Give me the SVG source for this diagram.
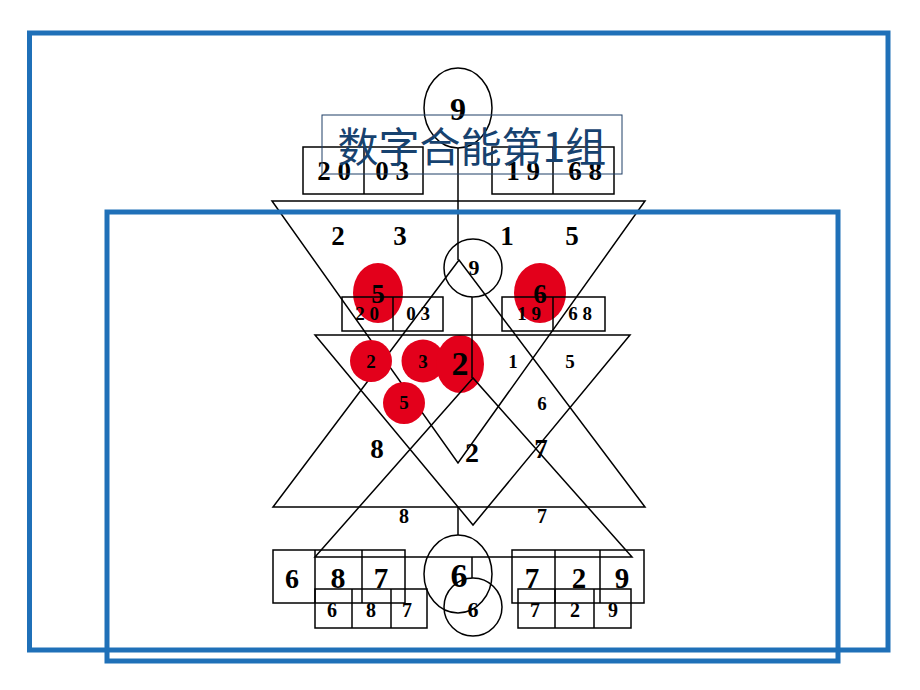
<svg xmlns="http://www.w3.org/2000/svg" width="920" height="690" viewBox="0 0 920 690">
<style>
.ln{fill:none;stroke:#000;stroke-width:1.5}
.bx{fill:none;stroke:#000;stroke-width:1.5}
.red{fill:#e3001b;stroke:none}
.t{font-family:"Liberation Serif","Times New Roman",serif;font-weight:bold;fill:#000;text-anchor:middle}
.frame{fill:none;stroke:#1f70b8;stroke-width:5}
.title{font-family:"Noto Sans CJK SC","Noto Sans",sans-serif;fill:#17426f;text-anchor:middle;font-size:41px}
</style>
<rect width="920" height="690" fill="#fff"/>

<g id="connectors">
  <polygon class="ln" points="272,201 645,201 458,463"/>
  <polygon class="ln" points="459,260 273,507 645,507"/>
  <line class="ln" x1="458" y1="148" x2="458" y2="260"/>
  <line class="ln" x1="458" y1="507" x2="458" y2="535"/>
</g>

<g id="large-top-circle">
  <ellipse class="ln" cx="458" cy="108" rx="34" ry="40"/>
  <text class="t" x="458" y="120" font-size="32">9</text>
</g>
<g id="large-top-left-box">
  <rect class="bx" x="303" y="147" width="120" height="47"/>
  <line class="ln" x1="364" y1="147" x2="364" y2="194"/>
</g>
<g id="large-top-right-box">
  <rect class="bx" x="492" y="147" width="122" height="47"/>
  <line class="ln" x1="553" y1="147" x2="553" y2="194"/>
</g>
<g id="large-bottom-circle">
  <ellipse class="ln" cx="458" cy="574" rx="34" ry="39"/>
</g>
<g id="large-bottom-left-box">
  <rect class="bx" x="273" y="550" width="132" height="53"/>
  <line class="ln" x1="315" y1="550" x2="315" y2="603"/>
  <line class="ln" x1="362" y1="550" x2="362" y2="603"/>
</g>
<g id="large-bottom-right-box">
  <rect class="bx" x="512" y="550" width="132" height="53"/>
  <line class="ln" x1="555" y1="550" x2="555" y2="603"/>
  <line class="ln" x1="600" y1="550" x2="600" y2="603"/>
</g>

<g id="red-marks">
  <ellipse class="red" cx="378" cy="293" rx="25" ry="30"/>
  <ellipse class="red" cx="540" cy="293" rx="26" ry="30"/>
  <circle class="red" cx="371" cy="361" r="21"/>
  <circle class="red" cx="423" cy="361" r="21.5"/>
  <ellipse class="red" cx="460" cy="364" rx="24" ry="29"/>
  <circle class="red" cx="404" cy="403" r="21"/>
</g>

<g id="small-connectors">
  <polygon class="ln" points="315,335 630,335 473,525"/>
  <polygon class="ln" points="473,378 315,557 632,557"/>
  <line class="ln" x1="472" y1="297" x2="472" y2="378"/>
  <line class="ln" x1="472" y1="557" x2="472" y2="578"/>
</g>
<g id="small-top-circle">
  <circle class="ln" cx="473" cy="268" r="29"/>
  <text class="t" x="474" y="275" font-size="22">9</text>
</g>
<g id="small-top-left-box">
  <rect class="bx" x="342" y="297" width="101" height="34"/>
  <line class="ln" x1="393" y1="297" x2="393" y2="331"/>
  <text class="t" x="367" y="320" font-size="19">2 0</text>
  <text class="t" x="418" y="320" font-size="19">0 3</text>
</g>
<g id="small-top-right-box">
  <rect class="bx" x="502" y="297" width="103" height="34"/>
  <line class="ln" x1="553" y1="297" x2="553" y2="331"/>
  <text class="t" x="529" y="320" font-size="19">1 9</text>
  <text class="t" x="580" y="320" font-size="19">6 8</text>
</g>
<g id="small-bottom-circle">
  <circle class="ln" cx="473" cy="607" r="29"/>
  <text class="t" x="473" y="617" font-size="22">6</text>
</g>
<g id="small-bottom-left-box">
  <rect class="bx" x="315" y="589" width="112" height="39"/>
  <line class="ln" x1="352" y1="589" x2="352" y2="628"/>
  <line class="ln" x1="391" y1="589" x2="391" y2="628"/>
  <text class="t" x="332" y="617" font-size="20">6</text>
  <text class="t" x="371" y="617" font-size="20">8</text>
  <text class="t" x="407" y="617" font-size="20">7</text>
</g>
<g id="small-bottom-right-box">
  <rect class="bx" x="518" y="589" width="113" height="39"/>
  <line class="ln" x1="555" y1="589" x2="555" y2="628"/>
  <line class="ln" x1="594" y1="589" x2="594" y2="628"/>
  <text class="t" x="535" y="617" font-size="20">7</text>
  <text class="t" x="575" y="617" font-size="20">2</text>
  <text class="t" x="613" y="617" font-size="20">9</text>
</g>

<g id="labels">
  <text class="t" x="334" y="180" font-size="27">2 0</text>
  <text class="t" x="392" y="180" font-size="27">0 3</text>
  <text class="t" x="523" y="180" font-size="27">1 9</text>
  <text class="t" x="585" y="180" font-size="27">6 8</text>
  <text class="t" x="338" y="245" font-size="27">2</text>
  <text class="t" x="400" y="245" font-size="27">3</text>
  <text class="t" x="507" y="245" font-size="27">1</text>
  <text class="t" x="572" y="245" font-size="27">5</text>
  <text class="t" x="378" y="303" font-size="27">5</text>
  <text class="t" x="540" y="303" font-size="27">6</text>
  <text class="t" x="371" y="368" font-size="19">2</text>
  <text class="t" x="423" y="368" font-size="19">3</text>
  <text class="t" x="460" y="375" font-size="34">2</text>
  <text class="t" x="513" y="368" font-size="19">1</text>
  <text class="t" x="570" y="368" font-size="19">5</text>
  <text class="t" x="542" y="410" font-size="19">6</text>
  <text class="t" x="404" y="409" font-size="19">5</text>
  <text class="t" x="377" y="458" font-size="27">8</text>
  <text class="t" x="472" y="462" font-size="28">2</text>
  <text class="t" x="541" y="458" font-size="27">7</text>
  <text class="t" x="404" y="523" font-size="20">8</text>
  <text class="t" x="542" y="523" font-size="20">7</text>
  <text class="t" x="292" y="588" font-size="28">6</text>
  <text class="t" x="338" y="588" font-size="30">8</text>
  <text class="t" x="381" y="588" font-size="29">7</text>
  <text class="t" x="459" y="587" font-size="34">6</text>
  <text class="t" x="532" y="588" font-size="29">7</text>
  <text class="t" x="579" y="588" font-size="29">2</text>
  <text class="t" x="622" y="588" font-size="29">9</text>
</g>

<g id="title">
  <rect x="322" y="115" width="300" height="59" fill="none" stroke="#1f3e66" stroke-width="1"/>
  <text class="title" x="472" y="162">数字合能第1组</text>
</g>

<g id="frames">
  <rect class="frame" x="29.5" y="33" width="858.5" height="617"/>
  <rect class="frame" x="107" y="212" width="731" height="449"/>
</g>
</svg>
